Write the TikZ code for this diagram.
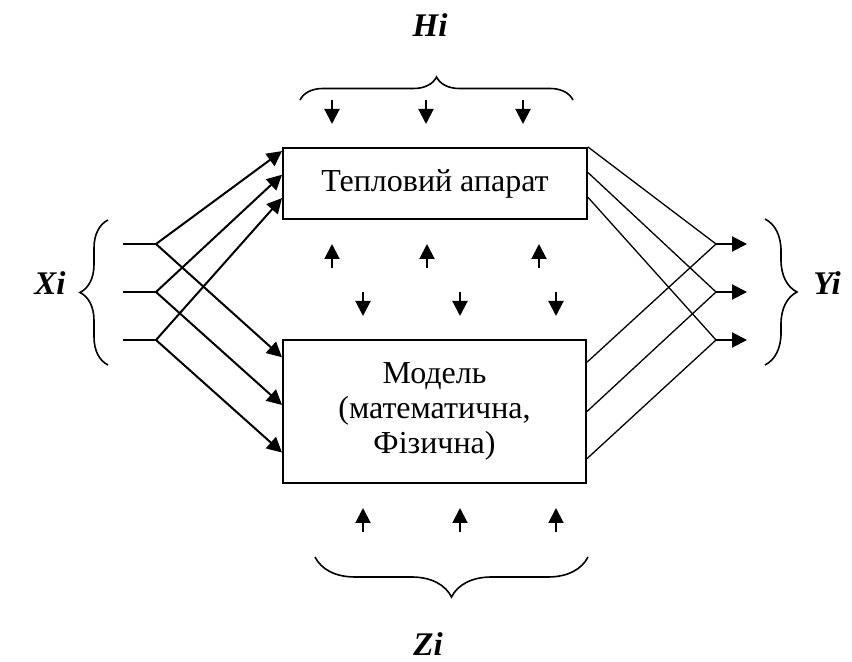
\documentclass[tikz,border=0pt]{standalone}
\usepackage{fontspec}
\setmainfont{Liberation Serif}
\usepackage{tikz}
\usetikzlibrary{arrows.meta, positioning, calc, decorations.pathreplacing}
\tikzstyle{arrow} = [line width=1pt,-{Triangle[length=7.5pt,width=7.5pt]}]

\begin{document}
\begin{tikzpicture}[
    x=0.5pt, y=-0.5pt,
    font=\fontsize{16}{17.5}\selectfont,
    block/.style={
        draw,
        line width=1pt,
        align=center,
        inner sep=0pt
    },
    link/.style={line width=0.65pt},
    feed/.style={line width=1pt},
    curly/.style={
        decorate,
        line width=0.8pt,
        decoration={brace, amplitude=#1}
    },
    varname/.style={font=\fontsize{16.5}{18}\selectfont\bfseries\itshape}
]
\useasboundingbox (0,0) rectangle (852,662);

% Blocks
\node[block, minimum width=152pt, minimum height=35.5pt] (apparatus) at (435,183.5) {Тепловий апарат};
\node[block, minimum width=151.5pt, minimum height=71.5pt] (model) at (434.5,411.5) {Модель\\(математична,\\Фізична)};

% Inputs Xi, split to both blocks
\foreach \i/\y in {1/244, 2/292, 3/340} {
    \coordinate (in\i) at (123,\y);
    \coordinate (fork\i) at (156,\y);
    \draw[feed] (in\i) -- (fork\i);
}
\foreach \i/\a/\b in {1/0.056/0.126, 2/0.38/0.455, 3/0.70/0.783} {
    \draw[arrow] (fork\i) -- ($(apparatus.north west)!\a!(apparatus.south west)$);
    \draw[arrow] (fork\i) -- ($(model.north west)!\b!(model.south west)$);
}

% Outputs Yi, joined from both blocks
\foreach \i/\y in {1/244, 2/292, 3/340} {
    \coordinate (join\i) at (716,\y);
    \coordinate (out\i) at (747,\y);
    \draw[arrow] (join\i) -- (out\i);
}
\foreach \i/\a/\b in {1/0/0.16, 2/0.35/0.50, 3/0.69/0.825} {
    \draw[link] ($(apparatus.north east)!\a!(apparatus.south east)$) -- (join\i);
    \draw[link] ($(model.north east)!\b!(model.south east)$) -- (join\i);
}

% Disturbances Hi and Zi
\foreach \x in {332,426,523} \draw[arrow] (\x,100) -- (\x,124);
\foreach \x in {332,427,539} \draw[arrow] (\x,268) -- (\x,244);
\foreach \x in {363,460,556} \draw[arrow] (\x,292) -- (\x,316);
\foreach \x in {363,460,556} \draw[arrow] (\x,532) -- (\x,508);

% Braces and names
\draw[curly=11.5pt] (300,100) -- (573,100);
\draw[curly=20pt] (588,557) -- (315,557);
\draw[curly=14pt] (108,365) -- (108,220);
\draw[curly=16pt] (765,219) -- (765,365);

\node[varname] (H) at (430,25) {Hi};
\node[varname] (Z) at (428,644) {Zi};
\node[varname] (X) at (50,283) {Xi};
\node[varname] (Y) at (827,283) {Yi};
\end{tikzpicture}
\end{document}
